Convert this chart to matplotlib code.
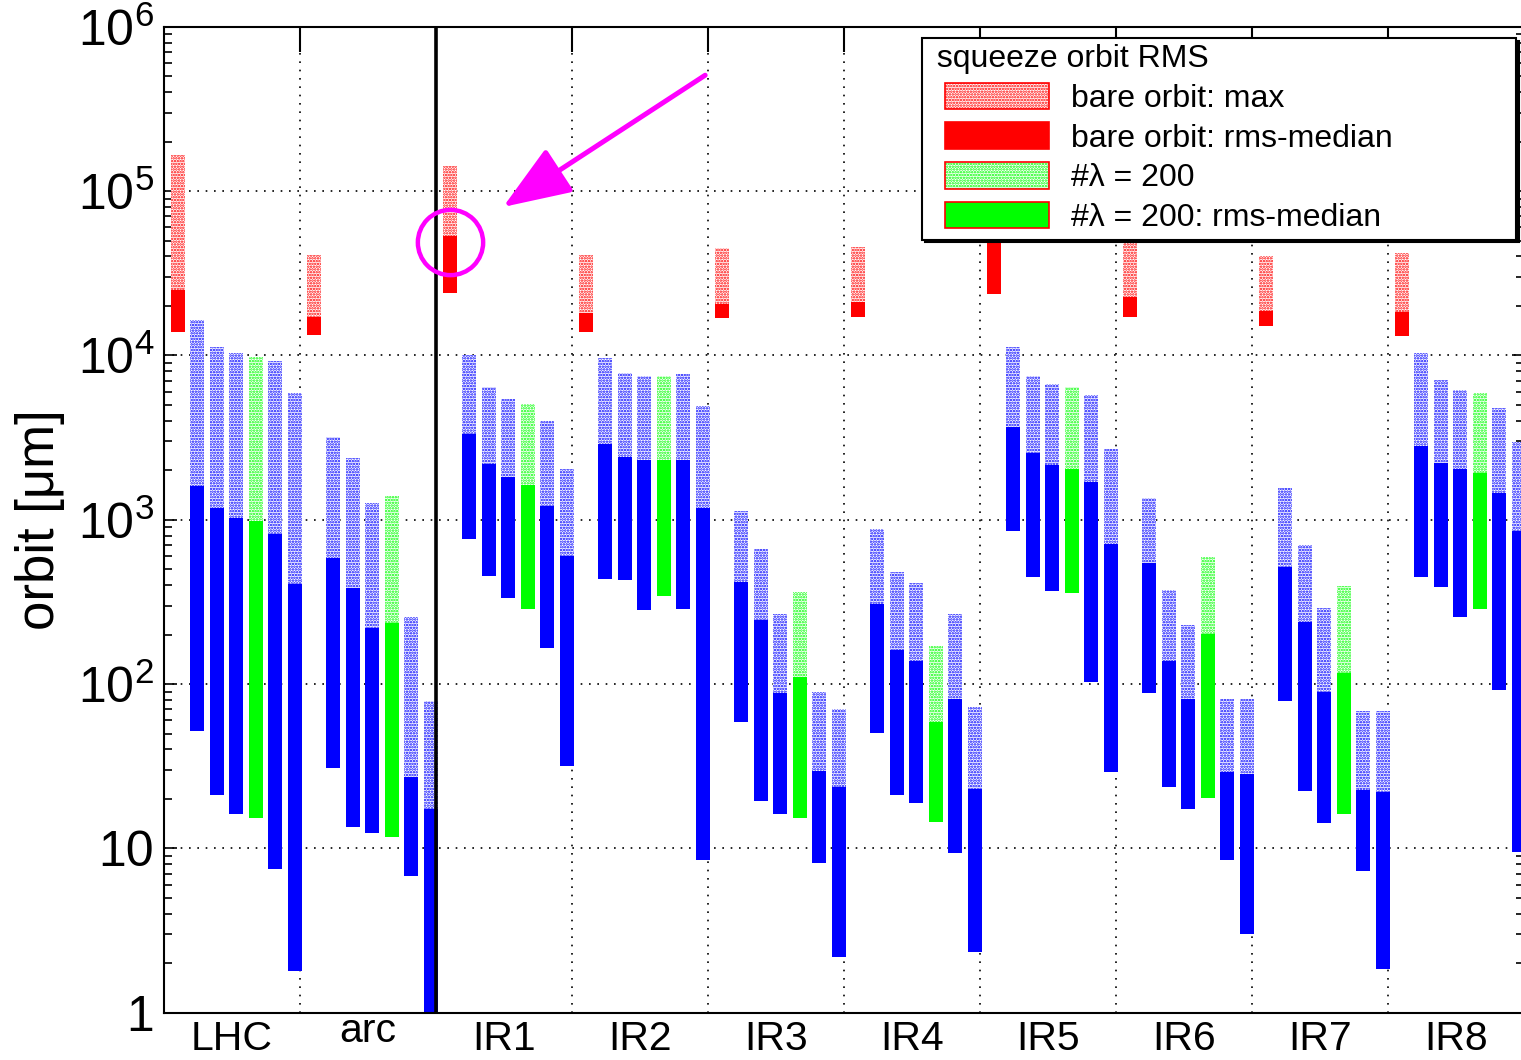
import numpy as np
import matplotlib.pyplot as plt
from matplotlib.patches import Patch, Rectangle
from matplotlib.legend_handler import HandlerPatch
from matplotlib.ticker import NullFormatter

plt.rcParams['font.family'] = ['Liberation Sans', 'DejaVu Sans']
plt.rcParams['mathtext.default'] = 'regular'
plt.rcParams['hatch.linewidth'] = 1.2

groups = ['LHC', 'arc', 'IR1', 'IR2', 'IR3', 'IR4', 'IR5', 'IR6', 'IR7', 'IR8']

# bare orbit (red bar): max, rms-median top, rms-median bottom
bare_max = [1.66e5, 4.08e4, 1.43e5, 4.08e4, 4.48e4, 4.58e4, 2.5e5, 5.5e4, 4.03e4, 4.18e4]
bare_hi = [2.5e4, 1.72e4, 5.33e4, 1.80e4, 2.05e4, 2.12e4, 8.0e4, 2.28e4, 1.87e4, 1.84e4]
bare_lo = [1.38e4, 1.33e4, 2.41e4, 1.38e4, 1.68e4, 1.72e4, 2.35e4, 1.72e4, 1.51e4, 1.32e4]

# corrected orbits, six per region (4th one is #lambda = 200)
corr_max = [
    [1.64e4, 1.12e4, 1.03e4, 9.8e3, 9.2e3, 5.93e3],
    [3.17e3, 2.38e3, 1.27e3, 1.39e3, 257, 79.2],
    [1.0e4, 6.45e3, 5.41e3, 5.06e3, 3.97e3, 2.03e3],
    [9.68e3, 7.85e3, 7.52e3, 7.52e3, 7.67e3, 4.92e3],
    [1.13e3, 663, 267, 365, 89.8, 70.2],
    [874, 479, 410, 170, 267, 72.2],
    [1.12e4, 7.52e3, 6.73e3, 6.45e3, 5.77e3, 2.71e3],
    [1.36e3, 372, 229, 596, 80.7, 80.7],
    [1.55e3, 699, 291, 397, 68.5, 68.5],
    [1.03e4, 7.05e3, 6.15e3, 5.88e3, 4.81e3, 2.98e3],
]
corr_hi = [
    [1.6e3, 1.17e3, 1.03e3, 982, 819, 406],
    [582, 383, 220, 234, 27.3, 17.3],
    [3.31e3, 2.17e3, 1.82e3, 1.63e3, 1.22e3, 601],
    [2.89e3, 2.42e3, 2.31e3, 2.31e3, 2.31e3, 1.17e3],
    [420, 244, 87.8, 110, 29.6, 23.5],
    [307, 160, 139, 59, 80.7, 23.1],
    [3.68e3, 2.55e3, 2.16e3, 2.04e3, 1.70e3, 711],
    [543, 138, 81.1, 201, 29.0, 28.4],
    [518, 239, 89.5, 117, 22.7, 22.1],
    [2.82e3, 2.21e3, 2.03e3, 1.93e3, 1.46e3, 854],
]
corr_lo = [
    [51.8, 21.2, 16.2, 15.2, 7.46, 1.79],
    [30.8, 13.5, 12.4, 11.7, 6.79, 0.5],
    [763, 456, 335, 287, 165, 31.7],
    [438, 430, 282, 343, 286, 8.5],
    [59.0, 19.4, 16.2, 15.2, 8.15, 2.19],
    [50.6, 21.1, 19.0, 14.5, 9.33, 2.35],
    [854, 448, 368, 360, 103, 29.0],
    [87.8, 23.6, 17.3, 20.3, 8.5, 3.0],
    [78.9, 22.2, 14.2, 16.2, 7.28, 1.85],
    [448, 391, 255, 285, 92, 9.55],
]
lambda_slot = 3

yticks = [1, 10, 1e2, 1e3, 1e4, 1e5, 1e6]
ytick_labels = ['1', '10', '$10^{2}$', '$10^{3}$', '$10^{4}$', '$10^{5}$', '$10^{6}$']

hatch = '......'
w = 0.103
slot_dx = 0.1435

fig = plt.figure(figsize=(15.21, 10.60), dpi=100)
ax = fig.add_axes([164 / 1521, 47.3 / 1060, 1360 / 1521, 986 / 1060])

for i, g in enumerate(groups):
    x0 = i + 0.1
    ax.bar(x0, bare_max[i] - bare_hi[i], bottom=bare_hi[i], width=w,
           facecolor='white', edgecolor='red', hatch=hatch, lw=0, zorder=2)
    ax.bar(x0, bare_hi[i] - bare_lo[i], bottom=bare_lo[i], width=w,
           color='red', lw=0, zorder=2)
    for j in range(6):
        c = 'lime' if j == lambda_slot else 'blue'
        x = x0 + (j + 1) * slot_dx
        ax.bar(x, corr_max[i][j] - corr_hi[i][j], bottom=corr_hi[i][j], width=w,
               facecolor='white', edgecolor=c, hatch=hatch, lw=0, zorder=2)
        ax.bar(x, corr_hi[i][j] - corr_lo[i][j], bottom=corr_lo[i][j], width=w,
               color=c, lw=0, zorder=2)

ax.set_yscale('log')
ax.set_ylim(1, 1e6)
ax.set_xlim(0, len(groups))
ax.set_yticks(yticks)
ax.set_yticklabels(ytick_labels)
ax.yaxis.set_minor_formatter(NullFormatter())
ax.tick_params(axis='y', which='both', direction='in', left=True, right=True,
               width=1.2, labelsize=36, pad=7)
ax.tick_params(axis='y', which='major', length=9)
ax.tick_params(axis='y', which='minor', length=6)

ax.set_xticks([])
ax.set_xticks(np.arange(1, len(groups)), minor=True)
ax.tick_params(axis='x', which='minor', direction='in', top=True, bottom=False,
               length=18, width=1.5)

ax.grid(which='major', axis='y', color='k', linestyle=(0, (1, 4)), lw=1.2)
ax.grid(which='minor', axis='x', color='k', linestyle=(0, (1, 4)), lw=1.2)
ax.set_axisbelow(True)
for s in ax.spines.values():
    s.set_linewidth(1.5)

ax.axvline(2, color='k', lw=2.6, zorder=4)

# region names under the axis
for i, g in enumerate(groups):
    yy = -0.0295 if g.islower() else -0.0375
    ax.text(i + 0.5, yy, g, transform=ax.get_xaxis_transform(), ha='center',
            va='baseline', fontsize=29.5,
            family=['Liberation Sans Narrow', 'Liberation Sans'])

ax.set_ylabel('orbit [μm]', fontsize=38)
ax.yaxis.set_label_coords(-0.0728, 0.5)

# highlight on the IR1 bare orbit bar
hx = 2 + 0.1
hy = bare_hi[2] * 0.92
ax.plot(hx, hy, marker='o', ms=47, mfc='none', mec='magenta', mew=3.2, zorder=5,
        clip_on=False)
ax.annotate('', xy=(hx, hy), xytext=(184, 120), textcoords='offset points',
            arrowprops=dict(arrowstyle='-|>,head_length=2.1,head_width=0.8',
                            mutation_scale=20, lw=3.6, color='magenta',
                            shrinkA=0, shrinkB=46),
            zorder=5)


def indented_patch(legend, orig_handle, xdescent, ydescent, width, height, fontsize):
    indent = 0.53 * fontsize
    return Rectangle((-xdescent + indent, -ydescent), width - indent, height)


handles = [
    Patch(facecolor='white', edgecolor='red', hatch=hatch, lw=1.2),
    Patch(facecolor='red', edgecolor='red', lw=1.2),
    (Patch(facecolor='white', edgecolor='lime', hatch=hatch, lw=0),
     Patch(facecolor='none', edgecolor='red', lw=1.2)),
    (Patch(facecolor='lime', edgecolor='lime', lw=0),
     Patch(facecolor='none', edgecolor='red', lw=1.2)),
]
labels = ['bare orbit: max', 'bare orbit: rms-median', '#λ = 200', '#λ = 200: rms-median']
leg = ax.legend(handles, labels, title=' squeeze orbit RMS', title_fontsize=23,
                fontsize=23, loc='upper left', mode='expand',
                bbox_to_anchor=(0.5574, 0.5, 0.4368, 0.4885), borderaxespad=0,
                alignment='left', fancybox=False, framealpha=1,
                edgecolor='black', handlelength=3.76, handleheight=0.91,
                handletextpad=0.69, labelspacing=0.26, borderpad=0.2,
                handler_map={Patch: HandlerPatch(patch_func=indented_patch)},
                shadow={'color': 'black', 'alpha': 1})
leg.get_frame().set_linewidth(1.5)
leg.set_zorder(6)

fig.savefig('out.png', dpi=100)
